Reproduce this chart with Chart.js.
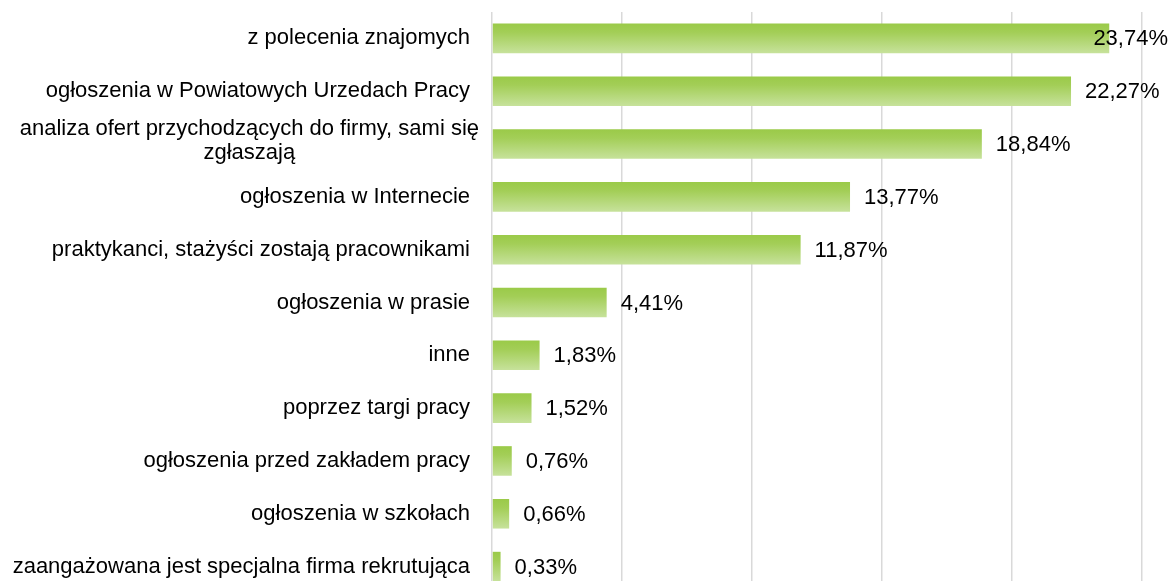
<!DOCTYPE html>
<html>
<head>
<meta charset="utf-8">
<script src="https://cdn.jsdelivr.net/npm/chart.js@4"></script>
<style>
  html, body { margin: 0; padding: 0; background: #fff; overflow: hidden; }
  #wrap { width: 1169px; height: 593px; position: relative; }
</style>
</head>
<body>
<div id="wrap"><canvas id="graphique"></canvas></div>
<script>
// categories and values (percent)
const categories = [
    "z polecenia znajomych",
    "ogłoszenia w Powiatowych Urzedach Pracy",
    ["analiza ofert przychodzących do firmy, sami się", "zgłaszają"],
    "ogłoszenia w Internecie",
    "praktykanci, stażyści zostają pracownikami",
    "ogłoszenia w prasie",
    "inne",
    "poprzez targi pracy",
    "ogłoszenia przed zakładem pracy",
    "ogłoszenia w szkołach",
    "zaangażowana jest specjalna firma rekrutująca"
];
const values = [23.74, 22.27, 18.84, 13.77, 11.87, 4.41, 1.83, 1.52, 0.76, 0.66, 0.33];
const valueLabels = ["23,74%", "22,27%", "18,84%", "13,77%", "11,87%", "4,41%", "1,83%", "1,52%", "0,76%", "0,66%", "0,33%"];

const FONT = '22px "Liberation Sans", Arial, sans-serif';

// etykiety kategorii i wartosci rysowane recznie
const labelsPlugin = {
    id: 'labelsPlugin',
    afterDatasetsDraw(chart) {
        const ctx = chart.ctx;
        const meta = chart.getDatasetMeta(0);
        ctx.save();
        ctx.font = FONT;
        ctx.fillStyle = '#000';
        ctx.textBaseline = 'middle';
        meta.data.forEach((bar, i) => {
            const cy = bar.y;
            const lab = categories[i];
            if (Array.isArray(lab)) {
                const w = Math.max(...lab.map(l => ctx.measureText(l).width));
                const cx = 479 - w / 2;
                ctx.textAlign = 'center';
                ctx.fillText(lab[0], cx, cy - 15);
                ctx.fillText(lab[1], cx, cy + 9);
            } else {
                ctx.textAlign = 'right';
                ctx.fillText(lab, 470, cy);
            }
            // wartosc
            const txt = valueLabels[i];
            const tw = ctx.measureText(txt).width;
            let x = bar.x + 14;
            if (x + tw > chart.width - 1) x = chart.width - 1 - tw;
            ctx.textAlign = 'left';
            ctx.fillText(txt, x, cy + 1);
        });
        ctx.restore();
    }
};

const graph = document.getElementById('graphique');

new Chart(graph, {
    type: 'bar',
    data: {
        labels: categories,
        datasets: [{
            data: values,
            barPercentage: 0.56,
            categoryPercentage: 1,
            backgroundColor: function(context) {
                const chart = context.chart;
                if (!chart.chartArea || !chart.scales.y) return '#a8d05a';
                const y = chart.scales.y.getPixelForValue(context.dataIndex);
                const g = chart.ctx.createLinearGradient(0, y - 15, 0, y + 15);
                g.addColorStop(0, '#9aca48');
                g.addColorStop(0.3, '#a3ce57');
                g.addColorStop(1, '#c7e29c');
                return g;
            }
        }]
    },
    options: {
        indexAxis: 'y',
        responsive: true,
        maintainAspectRatio: false,
        animation: false,
        layout: {
            padding: { left: 492, right: 27, top: 12, bottom: 0 }
        },
        plugins: {
            legend: { display: false },
            tooltip: { enabled: false }
        },
        scales: {
            x: {
                min: 0,
                max: 25,
                ticks: { display: false, stepSize: 5 },
                border: { display: false },
                grid: {
                    color: '#d9d9d9',
                    lineWidth: 1.5,
                    drawTicks: false
                }
            },
            y: {
                display: false
            }
        }
    },
    plugins: [labelsPlugin]
});
</script>
</body>
</html>
